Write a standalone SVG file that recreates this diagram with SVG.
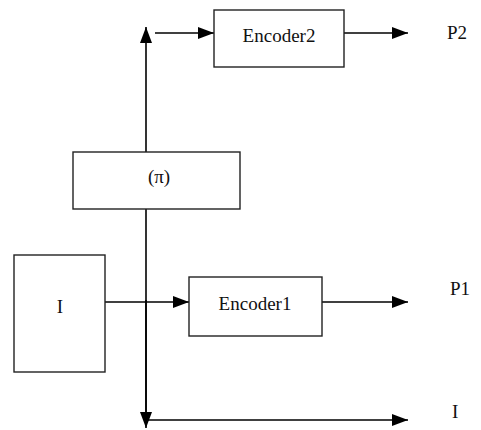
<svg xmlns="http://www.w3.org/2000/svg" width="481" height="430" viewBox="0 0 481 430">
<style>
.box{fill:#fff;stroke:#222;stroke-width:1.4}
.ln{stroke:#000;stroke-width:1.6;fill:none}
.t{font-family:"Liberation Serif","Times New Roman",serif;font-size:19px;fill:#111}
</style>
<defs>
<marker id="ah" markerWidth="16" markerHeight="12" refX="16" refY="6" orient="auto" markerUnits="userSpaceOnUse">
<path d="M0,0 L16,6 L0,12 z" fill="#000"/>
</marker>
</defs>
<rect width="481" height="430" fill="#fff"/>
<g id="connectors">
<line class="ln" x1="146" y1="420" x2="146" y2="27" marker-end="url(#ah)"/>
<line class="ln" x1="146" y1="300" x2="146" y2="428" marker-end="url(#ah)"/>
<line class="ln" x1="155" y1="33" x2="214" y2="33" marker-end="url(#ah)"/>
<line class="ln" x1="344" y1="33" x2="408" y2="33" marker-end="url(#ah)"/>
<line class="ln" x1="105" y1="302" x2="189" y2="302" marker-end="url(#ah)"/>
<line class="ln" x1="322" y1="302" x2="408" y2="302" marker-end="url(#ah)"/>
<line class="ln" x1="146" y1="420" x2="408" y2="420" marker-end="url(#ah)"/>
</g>
<g id="encoder2">
<rect class="box" x="214" y="10" width="130" height="57"/>
<text class="t" x="279" y="42" text-anchor="middle">Encoder2</text>
</g>
<g id="interleaver">
<rect class="box" x="73" y="152" width="167" height="57"/>
<text class="t" x="159" y="183" text-anchor="middle">(π)</text>
</g>
<g id="input">
<rect class="box" x="14" y="255" width="91" height="117"/>
<text class="t" x="60" y="313" text-anchor="middle">I</text>
</g>
<g id="encoder1">
<rect class="box" x="189" y="277" width="133" height="59"/>
<text class="t" x="255" y="310" text-anchor="middle">Encoder1</text>
</g>
<g id="labels">
<text class="t" x="447" y="39">P2</text>
<text class="t" x="450" y="295">P1</text>
<text class="t" x="452" y="418">I</text>
</g>
</svg>
